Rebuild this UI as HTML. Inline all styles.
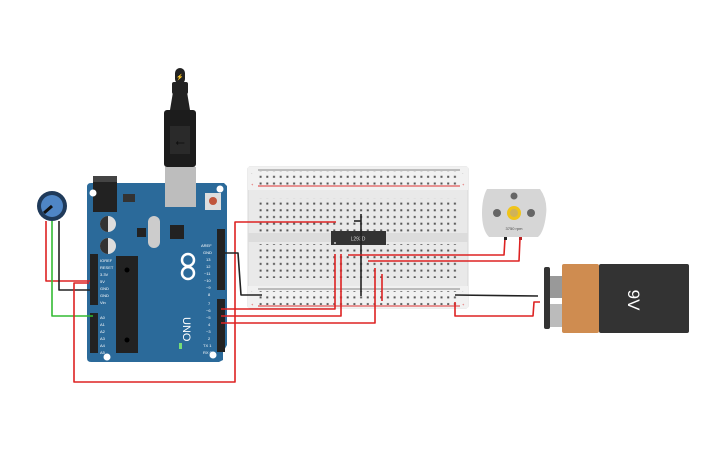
<!DOCTYPE html>
<html><head><meta charset="utf-8"><style>
html,body{margin:0;padding:0;background:#fff;}
svg{display:block;font-family:"Liberation Sans",sans-serif;}
</style></head><body>
<svg width="725" height="453" viewBox="0 0 725 453" xmlns="http://www.w3.org/2000/svg">
<defs>
<pattern id="dots" x="258" y="0" width="6.7" height="6.7" patternUnits="userSpaceOnUse">
<rect x="1.6" y="1.6" width="2" height="2" fill="#555"/>
</pattern>
</defs>
<!-- Breadboard -->
<rect x="248" y="167" width="220" height="141" rx="2" fill="#e9e9e9" stroke="#d8d8d8"/>
<rect x="248" y="167" width="220" height="23" fill="#f1f1f1"/>
<rect x="248" y="286" width="220" height="22" fill="#f1f1f1"/>
<line x1="258" y1="170" x2="460" y2="170" stroke="#888" stroke-width="1"/>
<line x1="258" y1="186" x2="460" y2="186" stroke="#d33" stroke-width="1"/>
<line x1="258" y1="289" x2="460" y2="289" stroke="#888" stroke-width="1"/>
<line x1="258" y1="306" x2="460" y2="306" stroke="#d33" stroke-width="1"/>
<rect x="248" y="233" width="220" height="9" fill="#dcdcdc"/>
<rect x="258" y="171" width="201" height="14" fill="url(#dots)"/>
<rect x="258" y="198" width="201" height="34" fill="url(#dots)"/>
<rect x="258" y="244" width="201" height="34" fill="url(#dots)"/>
<rect x="258" y="291" width="201" height="14" fill="url(#dots)"/>
<g font-size="4" fill="#999">
<text x="251" y="174">-</text><text x="251" y="186" fill="#d33">+</text>
<text x="462" y="174">-</text><text x="462" y="186" fill="#d33">+</text>
<text x="251" y="292">-</text><text x="251" y="306" fill="#d33">+</text>
<text x="462" y="292">-</text><text x="462" y="306" fill="#d33">+</text>
</g>
<!-- chip -->
<rect x="331" y="231" width="55" height="14" fill="#333"/>
<text x="358" y="240.5" font-size="5" fill="#ddd" text-anchor="middle">L293D</text>
<circle cx="335" cy="243" r="1" fill="#ccc"/>
<!-- Arduino board -->
<path d="M87 187 Q87 183 91 183 L224 183 L227 186 L227 345 L223 352 L223 360 L219 362 L91 362 Q87 362 87 358 Z" fill="#2b6a9a"/>
<rect x="93" y="176" width="24" height="36" fill="#222"/>
<rect x="93" y="176" width="24" height="6" fill="#444"/>
<rect x="165" y="167" width="31" height="40" fill="#bdbdbd"/>
<rect x="205" y="193" width="16" height="17" fill="#ddd"/>
<circle cx="213" cy="201" r="4" fill="#c0553b"/>
<rect x="123" y="194" width="12" height="8" fill="#333"/>
<circle cx="108" cy="224" r="8" fill="#ddd"/><path d="M108 216 A8 8 0 0 0 108 232 Z" fill="#333"/>
<circle cx="108" cy="246" r="8" fill="#ddd"/><path d="M108 238 A8 8 0 0 0 108 254 Z" fill="#333"/>
<rect x="148" y="216" width="12" height="32" rx="6" fill="#ccc"/>
<rect x="137" y="228" width="9" height="9" fill="#222"/>
<rect x="170" y="225" width="14" height="14" fill="#222"/>
<rect x="116" y="256" width="22" height="97" fill="#222"/>
<circle cx="127" cy="270" r="2.5" fill="#000"/><circle cx="127" cy="340" r="2.5" fill="#000"/>
<circle cx="93" cy="193" r="3.5" fill="#fff"/><circle cx="220" cy="189" r="3.5" fill="#fff"/>
<circle cx="107" cy="357" r="3.5" fill="#fff"/><circle cx="213" cy="355" r="3.5" fill="#fff"/>
<rect x="90" y="254" width="8" height="51" fill="#222"/>
<rect x="90" y="313" width="8" height="40" fill="#222"/>
<rect x="217" y="229" width="8" height="61" fill="#222"/>
<rect x="217" y="299" width="8" height="53" fill="#222"/>
<g font-size="4" fill="#fff">
<text x="100" y="262">IOREF</text><text x="100" y="269">RESET</text><text x="100" y="276">3.3V</text>
<text x="100" y="283">5V</text><text x="100" y="290">GND</text><text x="100" y="297">GND</text><text x="100" y="304">Vin</text>
<text x="100" y="319">A0</text><text x="100" y="326">A1</text><text x="100" y="333">A2</text>
<text x="100" y="340">A3</text><text x="100" y="347">A4</text><text x="100" y="354">A5</text>
<text x="201" y="247">AREF</text><text x="203" y="254">GND</text><text x="206" y="261">13</text><text x="206" y="268">12</text>
<text x="204" y="275">~11</text><text x="204" y="282">~10</text><text x="206" y="289">~9</text><text x="208" y="296">8</text>
<text x="208" y="305">7</text><text x="206" y="312">~6</text><text x="206" y="319">~5</text><text x="208" y="326">4</text>
<text x="206" y="333">~3</text><text x="208" y="340">2</text><text x="203" y="347">TX 1</text><text x="203" y="354">RX 0</text>
</g>
<text x="0" y="0" font-size="11" fill="#fff" transform="translate(183,317) rotate(90)">UNO</text>
<circle cx="188" cy="260" r="6" fill="none" stroke="#fff" stroke-width="2.5"/>
<circle cx="188" cy="273" r="6" fill="none" stroke="#fff" stroke-width="2.5"/>
<rect x="179" y="343" width="3" height="6" fill="#7d7"/>
<!-- USB cable -->
<rect x="164" y="110" width="32" height="57" rx="3" fill="#1c1c1c"/>
<path d="M170 110 L173 92 L187 92 L190 110 Z" fill="#222"/>
<rect x="172" y="82" width="16" height="12" rx="2" fill="#222"/>
<rect x="175" y="68" width="10" height="16" rx="5" fill="#222"/>
<text x="180" y="79" font-size="6" fill="#fc0" text-anchor="middle">⚡</text>
<rect x="170" y="126" width="20" height="28" fill="#2a2a2a"/>
<text x="180" y="146" font-size="12" fill="#111" text-anchor="middle">⭠</text>
<!-- Pot -->
<circle cx="52" cy="206" r="15" fill="#1f3a5a"/>
<circle cx="52" cy="206" r="11" fill="#4f86c6"/>
<line x1="52" y1="206" x2="44" y2="213" stroke="#111" stroke-width="3"/>
<!-- wires -->
<g fill="none" stroke-width="1.6" stroke-linejoin="round">
<polyline points="46,221 46,281 90,281" stroke="#d22"/>
<polyline points="59,221 59,290 92,290" stroke="#222"/>
<polyline points="52,221 52,316 93,316" stroke="#3b3"/>
<polyline points="89,283 74,283 74,382 235,382 235,222 336,222" stroke="#d22"/>
<polyline points="221,253 238,253 241,295 262,295" stroke="#222"/>
<polyline points="221,309 335,309 335,254" stroke="#d22"/>
<polyline points="221,316 341,316 341,254" stroke="#d22"/>
<polyline points="221,323 375,323 375,268" stroke="#d22"/>
<line x1="382" y1="274" x2="382" y2="301" stroke="#d22"/>
<line x1="361" y1="214" x2="361" y2="296" stroke="#222"/>
<line x1="354" y1="221" x2="361" y2="221" stroke="#222"/>
<polyline points="348,255 504,255 505,238" stroke="#d22"/>
<polyline points="368,261 519,261 520,238" stroke="#d22"/>
<polyline points="455,295 538,296" stroke="#222"/>
<polyline points="455,302 455,316 533,316 534,302 540,302" stroke="#d22"/>
</g>
<!-- Motor -->
<path d="M487 189 L540 189 Q548 200 546 215 Q544 232 538 237 L489 237 Q482 230 482 213 Q482 198 487 189 Z" fill="#d6d6d6"/>
<circle cx="514" cy="196" r="3.5" fill="#666"/>
<circle cx="497" cy="213" r="4" fill="#666"/><circle cx="531" cy="213" r="4" fill="#666"/>
<circle cx="514" cy="213" r="7" fill="#f0c419"/><circle cx="514" cy="213" r="4" fill="#cfb25a"/>
<text x="514" y="230" font-size="4" fill="#444" text-anchor="middle">3750 rpm</text>
<rect x="504" y="237" width="3" height="3" fill="#222"/><rect x="519" y="237" width="3" height="3" fill="#b22"/>
<!-- Battery -->
<rect x="550" y="276" width="12" height="22" fill="#999"/>
<rect x="550" y="304" width="12" height="23" fill="#bbb"/>
<rect x="544" y="267" width="6" height="62" rx="2" fill="#333"/>
<rect x="562" y="264" width="37" height="69" rx="2" fill="#cf8c50"/>
<rect x="599" y="264" width="90" height="69" rx="2" fill="#333"/>
<text x="0" y="0" font-size="17" fill="#fff" text-anchor="middle" transform="translate(628,300) rotate(90)">9V</text>
</svg>
</body></html>
